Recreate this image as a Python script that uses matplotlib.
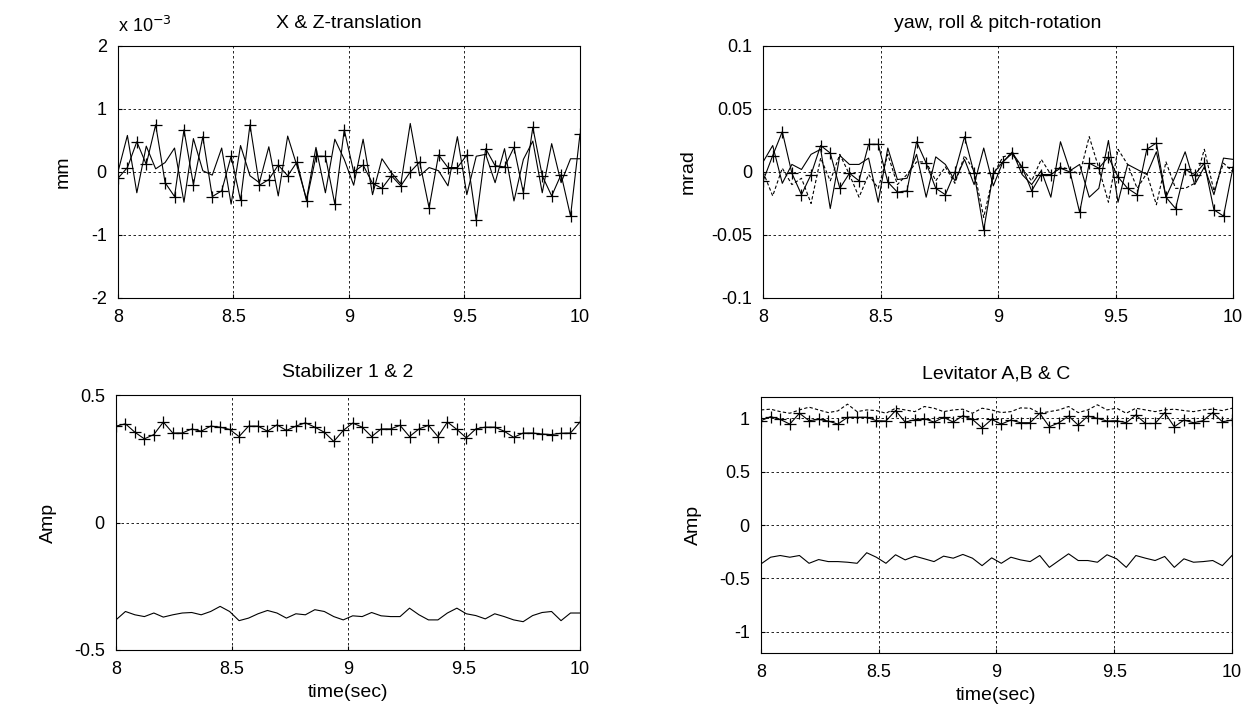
import numpy as np
import matplotlib
matplotlib.use('Agg')
import matplotlib.pyplot as plt

plt.rcParams['font.family'] = ['Liberation Sans', 'DejaVu Sans']

# X & Z translation (units of 1e-3 mm)
xz_marked = [-0.10, 0.07, 0.48, 0.12, 0.75, -0.17, -0.39, 0.67, -0.20, 0.56,
             -0.39, -0.30, 0.25, -0.45, 0.75, -0.21, -0.12, 0.11, -0.06, 0.16,
             -0.46, 0.25, 0.25, -0.51, 0.67, 0.00, 0.11, -0.18, -0.26, -0.06,
             -0.22, 0.00, 0.16, -0.57, 0.27, 0.07, 0.07, 0.27, -0.77, 0.37,
             0.10, 0.08, 0.39, -0.33, 0.71, -0.06, -0.38, -0.04, -0.70, 0.60]
xz_plain = [0.00, 0.58, -0.33, 0.41, 0.05, 0.15, 0.38, -0.48, 0.53, 0.02,
            -0.05, 0.38, -0.51, 0.42, -0.06, -0.17, 0.40, -0.38, 0.57, 0.09,
            -0.43, 0.39, -0.33, 0.52, 0.20, -0.21, 0.52, -0.36, 0.21, -0.01,
            -0.19, 0.77, -0.06, 0.07, 0.02, -0.22, 0.56, -0.36, 0.25, 0.28,
            -0.17, 0.37, -0.46, 0.20, 0.49, -0.33, 0.45, -0.17, 0.21, 0.21]

# yaw, roll & pitch rotation (mrad)
rot_marked = [-0.007, 0.013, 0.032, -0.001, -0.018, -0.002, 0.021, 0.015, -0.013, -0.001,
              -0.007, 0.022, 0.022, -0.008, -0.016, -0.015, 0.024, 0.007, -0.013, -0.018,
              0.000, 0.028, -0.001, -0.046, -0.001, 0.008, 0.015, 0.004, -0.015, -0.002,
              -0.002, 0.003, 0.000, -0.032, 0.007, 0.003, 0.012, -0.004, -0.013, -0.018,
              0.018, 0.023, -0.020, -0.029, 0.002, -0.002, 0.007, -0.030, -0.035, 0.004]
rot_plain = [0.008, 0.021, -0.009, 0.006, 0.002, 0.014, 0.018, -0.029, 0.013, 0.006,
             0.006, 0.011, -0.024, 0.019, -0.006, -0.005, 0.014, -0.020, 0.012, 0.006,
             -0.007, 0.010, -0.010, 0.019, -0.011, 0.008, 0.016, -0.002, -0.010, 0.001,
             -0.020, 0.024, 0.001, 0.006, -0.020, -0.013, 0.025, -0.024, 0.006, 0.002,
             -0.002, 0.016, -0.020, -0.003, 0.016, -0.010, 0.004, -0.018, 0.011, 0.010]
rot_dashed = [0.000, -0.019, 0.003, -0.010, -0.005, -0.025, 0.011, -0.007, 0.014, -0.002,
              -0.020, -0.002, -0.013, 0.014, -0.010, -0.002, 0.008, 0.008, -0.007, 0.004,
              -0.009, 0.013, 0.001, -0.036, -0.002, 0.012, 0.014, 0.003, -0.007, 0.010,
              -0.002, 0.004, 0.002, -0.002, 0.028, 0.003, -0.024, 0.018, 0.006, -0.013,
              -0.001, -0.026, 0.008, -0.013, -0.013, -0.009, 0.018, -0.015, 0.007, 0.000]

# Stabilizer 1 & 2 (Amp)
stab_1 = [0.378, 0.387, 0.354, 0.328, 0.345, 0.394, 0.351, 0.351, 0.367, 0.358,
          0.378, 0.374, 0.365, 0.337, 0.378, 0.378, 0.358, 0.383, 0.361, 0.378,
          0.391, 0.374, 0.354, 0.318, 0.361, 0.390, 0.374, 0.337, 0.367, 0.367,
          0.381, 0.337, 0.367, 0.381, 0.337, 0.394, 0.365, 0.332, 0.367, 0.374,
          0.374, 0.358, 0.334, 0.351, 0.351, 0.347, 0.345, 0.350, 0.351, 0.394]
stab_2 = [-0.382, -0.349, -0.362, -0.369, -0.355, -0.371, -0.362, -0.355, -0.353, -0.362,
          -0.349, -0.329, -0.349, -0.385, -0.375, -0.358, -0.345, -0.355, -0.375, -0.358,
          -0.362, -0.342, -0.349, -0.369, -0.382, -0.366, -0.369, -0.353, -0.366, -0.369,
          -0.369, -0.336, -0.362, -0.382, -0.382, -0.355, -0.336, -0.358, -0.365, -0.378,
          -0.358, -0.369, -0.382, -0.389, -0.365, -0.353, -0.349, -0.385, -0.355, -0.355]

# Levitator A, B & C (Amp)
lev_a = [0.978, 1.016, 0.990, 0.946, 1.048, 0.978, 0.990, 0.975, 0.946, 1.010,
         1.010, 1.010, 0.978, 0.975, 1.073, 0.965, 0.987, 0.997, 0.965, 1.010,
         0.965, 1.025, 0.990, 0.911, 0.990, 0.946, 0.984, 0.959, 0.959, 1.048,
         0.921, 0.959, 1.022, 0.937, 1.022, 1.000, 0.975, 0.978, 0.959, 1.032,
         0.952, 0.952, 1.054, 0.921, 0.984, 0.959, 0.978, 1.054, 0.968, 0.984]
lev_b = [1.079, 1.086, 1.063, 1.048, 1.079, 1.105, 1.079, 1.054, 1.070, 1.133,
         1.063, 1.079, 1.073, 1.048, 1.095, 1.079, 1.063, 1.111, 1.095, 1.063,
         1.079, 1.086, 1.048, 1.095, 1.079, 1.054, 1.063, 1.098, 1.095, 1.048,
         1.063, 1.079, 1.111, 1.054, 1.079, 1.127, 1.079, 1.095, 1.048, 1.095,
         1.079, 1.063, 1.079, 1.086, 1.073, 1.063, 1.079, 1.086, 1.073, 1.095]
lev_c = [-0.365, -0.302, -0.286, -0.302, -0.286, -0.359, -0.324, -0.343, -0.343, -0.349,
         -0.359, -0.260, -0.302, -0.359, -0.279, -0.327, -0.292, -0.317, -0.343, -0.292,
         -0.311, -0.276, -0.311, -0.381, -0.308, -0.359, -0.302, -0.327, -0.343, -0.286,
         -0.397, -0.333, -0.270, -0.333, -0.333, -0.349, -0.279, -0.317, -0.397, -0.286,
         -0.311, -0.333, -0.295, -0.397, -0.317, -0.349, -0.343, -0.333, -0.381, -0.286]

xticks = [8, 8.5, 9, 9.5, 10]
xticklabels = ['8', '8.5', '9', '9.5', '10']


def t(vals):
    return np.linspace(8, 10, len(vals))


fig = plt.figure(figsize=(12.51, 7.16), dpi=100)
ax1 = fig.add_axes([0.0943, 0.5838, 0.3693, 0.352])
ax2 = fig.add_axes([0.6100, 0.5838, 0.3757, 0.352])
ax3 = fig.add_axes([0.0927, 0.0922, 0.3709, 0.3561])
ax4 = fig.add_axes([0.6083, 0.0880, 0.3765, 0.3575])

lw = 0.8
mk = dict(marker='+', markersize=9, markeredgewidth=0.9)

ax1.plot(t(xz_plain), xz_plain, color='black', lw=lw)
ax1.plot(t(xz_marked), xz_marked, color='black', lw=lw, **mk)
ax1.set_ylim(-2, 2)
ax1.set_yticks([-2, -1, 0, 1, 2])
ax1.set_yticklabels(['-2', '-1', '0', '1', '2'])
ax1.set_ylabel('mm', labelpad=14)
ax1.text(0.0, 1.04, 'x 10$^{-3}$', transform=ax1.transAxes, fontsize=13, ha='left', va='bottom')

ax2.plot(t(rot_dashed), rot_dashed, color='black', lw=lw, ls=(0, (3, 2)))
ax2.plot(t(rot_plain), rot_plain, color='black', lw=lw)
ax2.plot(t(rot_marked), rot_marked, color='black', lw=lw, **mk)
ax2.set_ylim(-0.1, 0.1)
ax2.set_yticks([-0.1, -0.05, 0, 0.05, 0.1])
ax2.set_yticklabels(['-0.1', '-0.05', '0', '0.05', '0.1'])
ax2.set_ylabel('mrad', labelpad=10)

ax3.plot(t(stab_1), stab_1, color='black', lw=lw, **mk)
ax3.plot(t(stab_2), stab_2, color='black', lw=lw)
ax3.set_ylim(-0.5, 0.5)
ax3.set_yticks([-0.5, 0, 0.5])
ax3.set_yticklabels(['-0.5', '0', '0.5'])
ax3.set_ylabel('Amp', labelpad=12)
ax3.set_xlabel('time(sec)')

ax4.plot(t(lev_b), lev_b, color='black', lw=lw, ls=(0, (3, 2)))
ax4.plot(t(lev_a), lev_a, color='black', lw=lw, **mk)
ax4.plot(t(lev_c), lev_c, color='black', lw=lw)
ax4.set_ylim(-1.2, 1.2)
ax4.set_yticks([-1, -0.5, 0, 0.5, 1])
ax4.set_yticklabels(['-1', '-0.5', '0', '0.5', '1'])
ax4.set_ylabel('Amp', labelpad=12)
ax4.set_xlabel('time(sec)')

titles = ['X & Z-translation', 'yaw, roll & pitch-rotation',
          'Stabilizer 1 & 2', 'Levitator A,B & C']

for ax, title in zip([ax1, ax2, ax3, ax4], titles):
    ax.set_xlim(8, 10)
    ax.set_xticks(xticks)
    ax.set_xticklabels(xticklabels)
    ax.grid(True, color='black', ls=(0, (3, 3)), lw=0.6)
    ax.tick_params(direction='in', length=3, labelsize=13, pad=8)
    ax.set_title(title, fontsize=14, pad=13)
    ax.yaxis.label.set_fontsize(14)
    ax.xaxis.label.set_fontsize(14)
    for s in ax.spines.values():
        s.set_linewidth(0.8)

fig.savefig('out.png', dpi=100)
